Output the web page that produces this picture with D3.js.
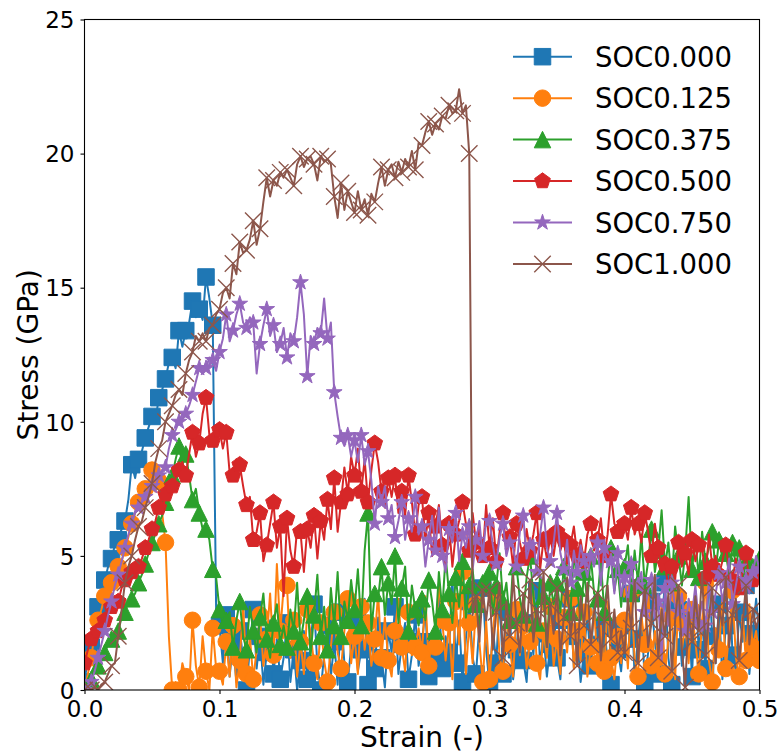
<!DOCTYPE html>
<html>
<head>
<meta charset="utf-8">
<script src="https://cdn.jsdelivr.net/npm/d3@7"></script>
<style>
  body { margin: 0; background: #fff; }
  svg { display: block; }
  text { font-family: "DejaVu Sans", sans-serif; fill: #000; }
</style>
</head>
<body>
<svg id="chart" width="782" height="756"></svg>
<script>
// Strain grid shared by all runs (step 0.0025, 0 → 0.5)
const strainStep = 0.0025;
const strain = d3.range(201).map(i => +(i * strainStep).toFixed(4));

const seriesNames = ["SOC0.000", "SOC0.125", "SOC0.375", "SOC0.500", "SOC0.750", "SOC1.000"];
const seriesColors = ["#1f77b4", "#ff7f0e", "#2ca02c", "#d62728", "#9467bd", "#8c564b"];
const seriesMarkers = ["square", "circle", "triangle", "pentagon", "star", "x"];

// Stress (GPa) per state of charge
const stressSOC0000 = [
  0.3, 1.2, 1.6, 2.7, 3.1, 3.4, 4.1, 4.6, 4.9, 5.4, 5.6, 6.0, 6.3, 7.1, 8.4, 7.9, 8.6, 8.9, 9.4, 9.8,
  10.2, 10.0, 10.9, 11.2, 11.6, 12.2, 12.4, 12.0, 13.4, 12.8, 13.4, 13.7, 14.5, 13.9, 14.2, 13.8, 15.4, 14.6, 13.6, 3.0,
  2.4, 1.0, 2.8, 0.5, 1.8, 0.3, 2.2, 1.2, 0.0, 1.6, 3.0, 0.8, 2.0, 0.2, 1.4, 2.6, 0.6, 1.9, 0.4, 1.2,
  2.5, 0.3, 1.5, 0.0, 1.1, 2.2, 0.4, 1.7, 3.2, 0.9, 0.0, 1.3, 2.4, 0.5, 1.8, 0.2, 2.9, 1.0, 0.3, 1.6,
  2.6, 0.7, 1.5, 3.4, 0.2, 1.9, 0.8, 2.7, 1.2, 0.1, 2.2, 1.4, 3.1, 0.6, 1.7, 2.5, 0.4, 1.3, 2.8, 0.9,
  1.8, 3.0, 0.5, 2.2, 1.1, 3.6, 0.8, 2.0, 1.4, 4.2, 1.0, 2.6, 0.3, 1.9, 3.3, 1.2, 0.6, 2.4, 3.8, 1.5,
  0.2, 2.3, 1.0, 3.5, 0.6, 1.8, 2.9, 0.4, 1.5, 3.2, 1.1, 0.3, 2.5, 1.3, 3.7, 0.9, 2.1, 0.5, 1.7, 3.0,
  1.2, 0.4, 2.6, 1.6, 3.4, 0.8, 2.0, 0.3, 1.4, 2.8, 0.9, 3.5, 1.7, 0.6, 2.3, 1.1, 0.2, 2.7, 1.5, 0.7,
  2.4, 1.0, 3.6, 0.5, 1.9, 2.9, 0.3, 1.4, 3.3, 1.8, 0.6, 2.5, 4.0, 1.2, 0.2, 2.2, 3.0, 0.9, 1.6, 2.8,
  0.5, 3.7, 1.5, 2.6, 0.8, 4.4, 2.0, 1.0, 3.2, 0.4, 2.4, 4.6, 1.3, 0.7, 2.9, 1.8, 3.9, 0.6, 2.1, 3.4,
  1.9
];
const stressSOC0125 = [
  0.0, 0.6, 1.2, 2.1, 2.6, 3.0, 3.5, 3.8, 4.0, 4.4, 4.6, 4.8, 5.3, 5.7, 6.2, 6.6, 7.0, 7.3, 7.5, 7.8,
  8.2, 7.4, 7.8, 6.6, 5.5, 2.0, 0.0, 0.3, 0.0, 1.0, 0.5, 0.0, 2.6, 0.9, 0.1, 2.0, 0.7, 0.0, 2.3, 0.8,
  0.7, 0.2, 1.8, 0.5, 2.4, 0.1, 1.1, 3.2, 0.6, 2.0, 0.4, 1.5, 2.8, 0.9, 1.9, 3.6, 1.3, 4.7, 2.2, 3.8,
  3.9, 1.2, 2.6, 0.5, 1.8, 0.6, 3.0, 2.1, 1.0, 0.4, 2.5, 1.1, 0.3, 1.6, 2.9, 1.4, 0.8, 2.2, 3.4, 1.0,
  2.0, 0.6, 3.1, 1.5, 2.5, 0.9, 1.9, 3.6, 1.2, 2.7, 1.1, 0.5, 2.2, 3.4, 1.6, 0.7, 2.9, 1.3, 1.6, 2.3,
  1.4, 3.5, 0.9, 2.2, 1.6, 4.0, 2.6, 1.1, 2.5, 0.4, 3.3, 1.7, 4.4, 0.6, 2.5, 1.0, 3.2, 1.8, 0.3, 2.6,
  0.4, 2.1, 3.5, 1.2, 0.7, 2.8, 1.7, 0.5, 3.0, 1.3, 2.4, 0.8, 1.8, 3.7, 1.0, 0.4, 2.2, 1.2, 3.1, 0.9,
  1.9, 0.6, 2.7, 1.4, 3.4, 0.8, 2.2, 1.1, 2.9, 0.5, 1.6, 3.0, 1.0, 2.4, 0.7, 3.3, 1.2, 0.4, 2.0, 1.0,
  2.6, 0.8, 3.6, 1.2, 0.5, 2.8, 1.7, 3.9, 0.9, 2.2, 1.2, 3.2, 0.6, 1.9, 2.7, 0.4, 3.5, 1.5, 2.4, 1.0,
  3.0, 1.8, 0.6, 2.6, 4.0, 1.1, 0.3, 2.3, 1.5, 3.4, 0.8, 2.1, 3.7, 1.2, 0.5, 2.8, 1.1, 3.2, 1.6, 2.2,
  1.1
];
const stressSOC0375 = [
  0.0, 0.2, 0.4, 0.7, 0.9, 1.2, 1.4, 1.7, 1.9, 2.0, 2.2, 2.7, 2.9, 3.3, 3.4, 3.6, 4.0, 4.3, 4.7, 5.1,
  5.5, 5.8, 6.2, 6.5, 7.0, 7.6, 8.0, 8.6, 9.1, 8.4, 8.8, 8.0, 7.1, 7.5, 6.6, 6.0, 6.0, 5.6, 4.5, 4.2,
  3.0, 2.4, 2.6, 2.9, 1.6, 2.6, 3.3, 2.0, 1.5, 3.1, 2.2, 1.4, 2.7, 3.6, 1.9, 1.2, 2.5, 3.2, 1.7, 2.4,
  1.6, 3.0, 2.2, 4.0, 1.8, 2.6, 3.5, 1.3, 2.8, 4.3, 2.0, 3.1, 1.5, 3.8, 2.4, 4.4, 2.0, 3.3, 2.6, 4.1,
  3.0, 4.5, 2.4, 5.2, 6.6, 2.2, 3.6, 3.4, 4.6, 2.8, 4.0, 3.2, 5.0, 2.5, 3.8, 4.6, 2.2, 3.9, 3.0, 2.4,
  3.4, 2.6, 4.1, 3.3, 2.2, 4.4, 3.0, 5.0, 3.6, 2.5, 4.2, 3.1, 4.8, 2.7, 3.9, 4.5, 3.2, 2.4, 4.0, 3.6,
  4.4, 2.8, 3.9, 5.1, 3.3, 4.0, 2.6, 4.7, 4.6, 3.4, 2.8, 4.2, 5.0, 3.5, 2.5, 4.3, 3.5, 1.6, 4.0, 3.2,
  4.0, 2.9, 4.6, 3.4, 2.9, 5.2, 3.8, 2.6, 4.4, 3.3, 5.0, 3.6, 3.4, 4.8, 2.9, 4.1, 5.3, 3.7, 4.5, 3.1,
  4.6, 5.4, 3.6, 5.2, 4.0, 5.8, 3.9, 4.8, 6.0, 4.4, 5.2, 6.7, 4.6, 5.5, 4.0, 6.1, 5.0, 3.9, 5.2, 7.2,
  4.5, 5.6, 4.2, 5.9, 4.8, 5.3, 5.9, 4.4, 5.6, 4.9, 5.1, 4.3, 5.5, 4.6, 5.3, 4.0, 4.8, 5.1, 4.6, 4.2,
  4.9
];
const stressSOC0500 = [
  1.0, 1.5, 1.9, 1.8, 2.2, 2.0, 2.6, 2.9, 3.1, 3.5, 3.3, 3.8, 4.1, 4.0, 4.4, 4.6, 4.6, 4.9, 5.3, 5.6,
  6.0, 6.3, 6.8, 6.6, 7.3, 7.1, 7.6, 7.9, 8.2, 8.5, 8.0, 8.8, 9.6, 8.7, 9.2, 10.3, 10.9, 9.5, 9.3, 9.8,
  9.7, 9.0, 9.6, 8.1, 8.0, 8.6, 8.4, 7.6, 6.9, 7.2, 5.6, 5.9, 6.6, 4.8, 5.4, 6.2, 7.0, 5.3, 6.1, 3.5,
  6.4, 5.2, 4.6, 6.0, 5.9, 4.4, 6.0, 5.3, 6.5, 4.9, 6.3, 5.6, 7.1, 6.0, 7.9, 5.9, 7.0, 8.3, 7.3, 8.7,
  8.0, 9.0, 7.4, 8.6, 7.0, 8.2, 9.2, 8.5, 7.4, 6.8, 7.9, 7.2, 8.0, 6.6, 7.4, 6.5, 8.0, 7.0, 5.8, 6.9,
  7.2, 5.6, 6.6, 5.0, 6.1, 6.9, 5.4, 4.5, 6.2, 4.6, 5.8, 6.3, 7.0, 6.2, 5.2, 6.6, 5.5, 6.0, 5.0, 6.9,
  5.3, 6.4, 4.8, 5.9, 6.6, 5.1, 5.7, 4.6, 6.2, 5.5, 4.9, 6.0, 5.2, 5.8, 6.6, 4.5, 5.6, 4.9, 5.7, 5.0,
  5.9, 5.2, 5.6, 4.7, 5.4, 6.1, 5.0, 5.6, 4.8, 5.8, 6.2, 5.2, 5.6, 6.4, 5.0, 5.8, 7.3, 6.2, 5.9, 5.8,
  6.2, 5.6, 6.8, 5.8, 6.2, 5.5, 6.6, 5.9, 5.0, 6.2, 5.3, 4.4, 4.7, 3.8, 4.6, 4.1, 5.5, 4.6, 5.1, 4.3,
  5.6, 4.8, 5.4, 5.3, 4.2, 5.8, 4.6, 5.0, 4.3, 4.8, 5.4, 4.5, 4.1, 4.9, 3.8, 4.4, 5.1, 4.0, 4.1, 4.6,
  4.3
];
const stressSOC0750 = [
  0.0, 0.0, 0.3, 0.7, 1.2, 1.7, 2.2, 2.8, 3.3, 3.9, 4.3, 4.8, 5.3, 5.8, 6.2, 6.6, 6.8, 7.0, 7.2, 7.4,
  7.6, 7.5, 8.0, 8.2, 8.3, 9.0, 9.5, 9.7, 10.0, 10.3, 10.3, 10.6, 11.0, 11.5, 12.0, 11.8, 12.0, 12.4, 12.3, 11.9,
  12.6, 13.1, 14.0, 13.0, 13.4, 14.0, 14.4, 13.7, 13.5, 13.9, 13.7, 11.8, 12.9, 13.6, 14.2, 13.2, 13.6, 12.6, 12.9, 13.5,
  12.4, 13.3, 13.0, 13.9, 15.2, 14.0, 11.7, 13.2, 12.9, 13.5, 13.3, 14.6, 13.1, 13.7, 11.1, 10.2, 9.4, 9.1, 9.5, 8.7,
  9.3, 8.5, 9.5, 8.4, 8.9, 7.8, 6.2, 7.6, 7.0, 7.6, 6.4, 6.9, 5.7, 6.3, 7.0, 5.6, 6.4, 5.9, 7.2, 5.8,
  6.1, 4.6, 5.6, 6.5, 5.2, 6.8, 5.0, 4.4, 6.0, 5.5, 6.6, 4.8, 5.8, 5.3, 6.1, 4.5, 5.6, 6.3, 5.0, 6.3,
  6.3, 5.4, 4.7, 5.7, 6.2, 5.0, 5.5, 5.3, 4.6, 5.9, 6.5, 4.9, 5.4, 5.6, 4.4, 5.8, 6.8, 5.3, 4.8, 5.5,
  6.6, 5.1, 4.5, 5.6, 4.0, 5.2, 4.4, 5.4, 4.8, 4.2, 5.0, 4.6, 5.5, 3.9, 5.3, 4.6, 4.8, 3.6, 5.1, 3.5,
  4.2, 3.2, 4.7, 3.6, 3.9, 4.4, 2.9, 3.7, 4.1, 2.6, 3.3, 1.1, 3.8, 2.4, 4.0, 3.1, 2.9, 3.6, 2.2, 3.4,
  2.8, 3.9, 2.5, 3.3, 2.4, 4.0, 2.9, 3.6, 4.35, 3.3, 4.0, 4.9, 3.2, 3.9, 4.6, 3.7, 4.1, 3.6, 4.4, 5.0,
  4.5
];
const stressSOC1000 = [
  0.0, 0.0, 0.0, 0.1, 0.0, 0.2, 0.3, 0.6, 0.9, 1.0, 2.0, 3.0, 4.0, 4.6, 5.0, 5.6, 6.1, 6.3, 6.8, 7.2,
  7.7, 8.5, 9.0, 9.3, 10.0, 10.3, 10.6, 11.0, 11.2, 11.0, 11.8, 12.3, 12.6, 13.2, 13.0, 13.3, 13.0, 13.5, 13.6, 14.0,
  14.2, 14.8, 15.0, 14.6, 15.9, 15.5, 16.7, 16.3, 16.4, 16.8, 17.5, 16.6, 17.2, 18.2, 19.1, 18.4, 19.0, 18.8, 19.3, 19.1,
  19.4, 19.1, 18.8, 19.6, 19.9, 19.5, 19.8, 19.9, 19.6, 19.0, 19.9, 19.7, 19.8, 19.6, 18.4, 17.6, 18.9, 17.9, 18.6, 18.2,
  17.8, 18.6, 17.9, 18.3, 17.7, 18.5, 18.2, 18.9, 19.5, 18.8, 19.4, 19.6, 19.1, 19.7, 19.3, 19.8, 19.5, 20.1, 19.4, 20.4,
  20.3, 20.8, 21.2, 20.7, 21.1, 20.9, 21.4, 21.3, 21.8, 21.5, 21.6, 22.4, 21.5, 21.8, 20.0, 2.8, 3.5, 1.8, 3.7, 2.6,
  3.7, 1.5, 2.9, 4.0, 1.2, 3.3, 2.0, 4.3, 2.5, 1.4, 3.6, 2.2, 4.1, 1.8, 3.0, 2.4, 4.4, 1.6, 3.2, 2.1,
  3.8, 1.3, 2.7, 4.2, 2.0, 3.1, 0.9, 3.5, 2.4, 4.0, 1.7, 2.9, 3.6, 1.1, 2.6, 3.9, 1.9, 3.0, 1.4, 2.2,
  1.4, 3.4, 2.3, 4.1, 1.0, 2.8, 3.7, 1.6, 2.5, 4.3, 1.2, 3.0, 2.0, 3.6, 0.7, 2.6, 3.9, 1.5, 0.1, 2.9,
  1.8, 3.5, 2.2, 4.4, 1.3, 2.7, 3.8, 1.0, 3.1, 2.4, 4.2, 1.6, 2.8, 3.4, 1.1, 2.5, 3.9, 1.7, 3.0, 2.3,
  2.8
];
const seriesStress = [stressSOC0000, stressSOC0125, stressSOC0375, stressSOC0500, stressSOC0750, stressSOC1000];

const xTicks = [0, 0.1, 0.2, 0.3, 0.4, 0.5];
const yTicks = [0, 5, 10, 15, 20, 25];

// ---- layout ----
const plot = { left: 84.5, right: 759.5, top: 19.5, bottom: 690 };
const markEvery = 2;
const markerSize = 16.5;

const svg = d3.select("#chart");
const x = d3.scaleLinear().domain([0, 0.5]).range([plot.left, plot.right]);
const y = d3.scaleLinear().domain([0, 25]).range([plot.bottom, plot.top]);

function markerPath(shape, s) {
  const r = s / 2;
  switch (shape) {
    case "square": return `M${-r},${-r}H${r}V${r}H${-r}Z`;
    case "circle": return `M${r},0A${r},${r} 0 1,1 ${-r},0A${r},${r} 0 1,1 ${r},0Z`;
    case "triangle": return `M0,${-r}L${r},${r}L${-r},${r}Z`;
    case "pentagon": {
      const pts = d3.range(5).map(k => {
        const a = -Math.PI / 2 + k * 2 * Math.PI / 5;
        return [r * Math.cos(a), r * Math.sin(a)];
      });
      return "M" + pts.map(p => p.join(",")).join("L") + "Z";
    }
    case "star": {
      const pts = d3.range(10).map(k => {
        const a = -Math.PI / 2 + k * Math.PI / 5;
        const rr = k % 2 === 0 ? r : r * 0.381966;
        return [rr * Math.cos(a), rr * Math.sin(a)];
      });
      return "M" + pts.map(p => p.join(",")).join("L") + "Z";
    }
    case "x": return `M${-r},${-r}L${r},${r}M${-r},${r}L${r},${-r}`;
  }
}

function drawMarker(g, shape, color, cx, cy) {
  const p = g.append("path")
    .attr("d", markerPath(shape, markerSize))
    .attr("transform", `translate(${cx},${cy})`);
  if (shape === "x") {
    p.attr("fill", "none").attr("stroke", color).attr("stroke-width", 1.4);
  } else {
    p.attr("fill", color).attr("stroke", color).attr("stroke-width", 1).attr("stroke-linejoin", "miter");
  }
}

svg.append("defs").append("clipPath").attr("id", "plot-clip")
  .append("rect")
  .attr("x", plot.left).attr("y", plot.top)
  .attr("width", plot.right - plot.left).attr("height", plot.bottom - plot.top);

const dataLayer = svg.append("g").attr("clip-path", "url(#plot-clip)");
const line = d3.line().x(d => x(d[0])).y(d => y(d[1]));

seriesNames.forEach((name, s) => {
  const pts = strain.map((e, i) => [e, seriesStress[s][i]]);
  const g = dataLayer.append("g").attr("class", "series");
  g.append("path")
    .attr("d", line(pts))
    .attr("fill", "none")
    .attr("stroke", seriesColors[s])
    .attr("stroke-width", 2)
    .attr("stroke-linejoin", "round")
    .attr("stroke-linecap", "square");
  pts.forEach((p, i) => {
    if (i % markEvery === 0) drawMarker(g, seriesMarkers[s], seriesColors[s], x(p[0]), y(p[1]));
  });
});

// ---- axes ----
const xAxis = svg.append("g")
  .attr("transform", `translate(0,${plot.bottom})`)
  .call(d3.axisBottom(x).tickValues(xTicks).tickFormat(d3.format(".1f")).tickSize(4).tickPadding(6));
const yAxis = svg.append("g")
  .attr("transform", `translate(${plot.left},0)`)
  .call(d3.axisLeft(y).tickValues(yTicks).tickFormat(d3.format("d")).tickSize(4).tickPadding(6));

[xAxis, yAxis].forEach(a => {
  a.select(".domain").remove();
  a.selectAll(".tick line").attr("stroke", "#000").attr("stroke-width", 1.1);
  a.selectAll(".tick text")
    .attr("font-family", "DejaVu Sans, sans-serif")
    .attr("font-size", 23)
    .attr("fill", "#000");
});
yAxis.selectAll(".tick text").attr("dy", "0.36em");
xAxis.selectAll(".tick text").attr("dy", "0.72em");

// frame
svg.append("rect")
  .attr("x", plot.left).attr("y", plot.top)
  .attr("width", plot.right - plot.left).attr("height", plot.bottom - plot.top)
  .attr("fill", "none").attr("stroke", "#000").attr("stroke-width", 1.1);

// axis titles
svg.append("text")
  .attr("x", (plot.left + plot.right) / 2).attr("y", 747)
  .attr("text-anchor", "middle").attr("font-size", 28)
  .text("Strain (-)");
svg.append("text")
  .attr("transform", `translate(37.5,${(plot.top + plot.bottom) / 2}) rotate(-90)`)
  .attr("text-anchor", "middle").attr("font-size", 28)
  .text("Stress (GPa)");

// legend
const legend = svg.append("g").attr("class", "legend");
seriesNames.forEach((name, s) => {
  const base = 66.7 + s * 41.45;
  const cy = base - 10;
  legend.append("line")
    .attr("x1", 513).attr("x2", 572).attr("y1", cy).attr("y2", cy)
    .attr("stroke", seriesColors[s]).attr("stroke-width", 2);
  drawMarker(legend, seriesMarkers[s], seriesColors[s], 542.5, cy);
  legend.append("text")
    .attr("x", 595).attr("y", base)
    .attr("font-size", 27.5)
    .text(name);
});
</script>
</body>
</html>
